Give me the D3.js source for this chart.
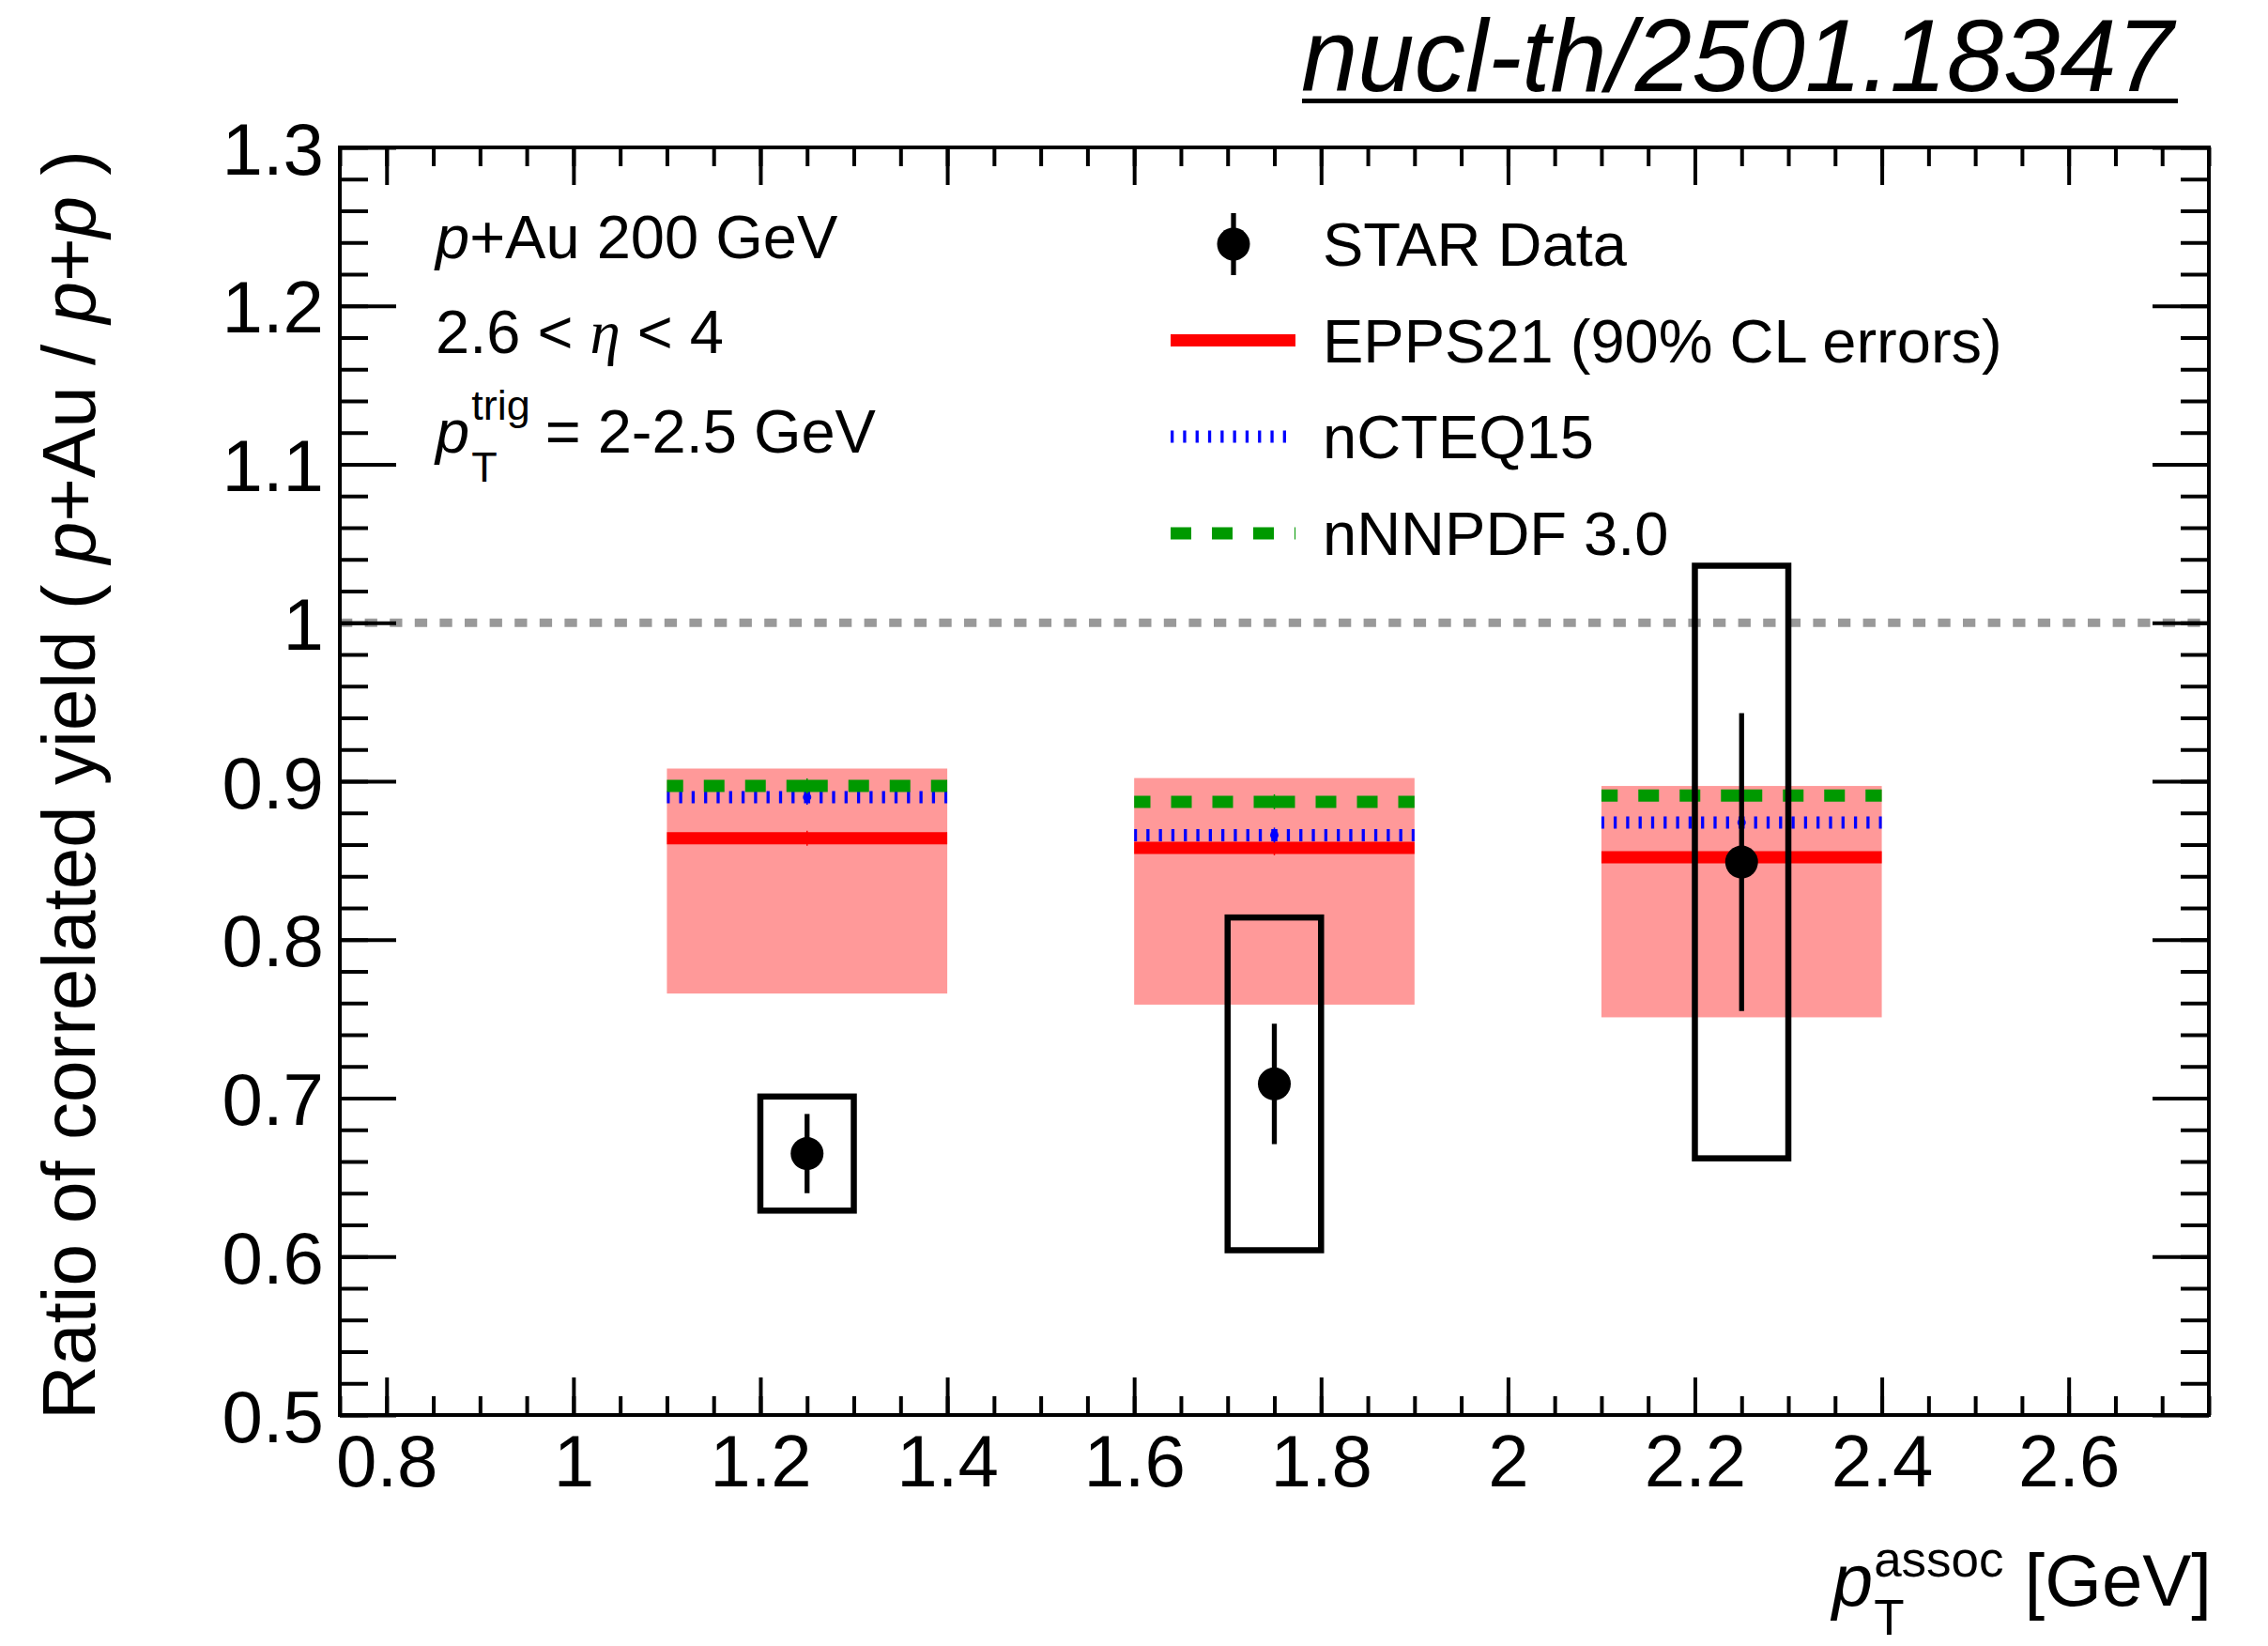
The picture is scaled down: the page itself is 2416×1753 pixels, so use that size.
<!DOCTYPE html>
<html>
<head>
<meta charset="utf-8">
<script src="https://cdn.jsdelivr.net/npm/d3@7"></script>
<style>
  body { margin: 0; background: #fff; }
  svg { display: block; font-family: "Liberation Sans", Arial, Helvetica, sans-serif; }
</style>
</head>
<body>
<svg id="chart" width="2416" height="1753"></svg>
<script>
// values
const ptAssoc = [1.25, 1.75, 2.25];
const starRatio = [0.665, 0.709, 0.849];
const starStat = [0.025, 0.038, 0.094];
const starSys = [0.036, 0.105, 0.187];
const sysHalfWidth = 0.05;

const eppsCentral = [0.864, 0.858, 0.852];
const eppsLow = [0.766, 0.759, 0.751];
const eppsHigh = [0.908, 0.902, 0.897];
const ncteq = [0.890, 0.866, 0.874];
const nnpdf = [0.897, 0.887, 0.891];
const modelHalfWidth = 0.15;

const xMajor = [0.8, 1.0, 1.2, 1.4, 1.6, 1.8, 2.0, 2.2, 2.4, 2.6];
const xTickLabels = ["0.8", "1", "1.2", "1.4", "1.6", "1.8", "2", "2.2", "2.4", "2.6"];
const yMajor = [0.5, 0.6, 0.7, 0.8, 0.9, 1.0, 1.1, 1.2, 1.3];
const yTickLabels = ["0.5", "0.6", "0.7", "0.8", "0.9", "1", "1.1", "1.2", "1.3"];

const legendLabels = ["STAR Data", "EPPS21 (90% CL errors)", "nCTEQ15", "nNNPDF 3.0"];

const svg = d3.select("#chart");
svg.append("rect").attr("width", 2416).attr("height", 1753).attr("fill", "#fff");

const x = d3.scaleLinear().domain([0.75, 2.75]).range([362, 2353]);
const y = d3.scaleLinear().domain([0.5, 1.3]).range([1507, 157]);

const xMinor = d3.range(0, 41).map(i => +(0.75 + i * 0.05).toFixed(2));
const yMinor = d3.range(0, 41).map(i => +(0.5 + i * 0.02).toFixed(2));

const RED = "#ff0000", BLUE = "#0000ff", GREEN = "#009900";

// EPPS21 error bands
svg.selectAll("rect.band")
  .data(ptAssoc)
  .enter()
  .append("rect")
  .attr("class", "band")
  .attr("x", d => x(d - modelHalfWidth))
  .attr("width", d => x(d + modelHalfWidth) - x(d - modelHalfWidth))
  .attr("y", (d, i) => y(eppsHigh[i]))
  .attr("height", (d, i) => y(eppsLow[i]) - y(eppsHigh[i]))
  .attr("fill", "#ff9999");

// model lines, drawn from the centre outward so the dash pattern starts there
function modelLine(values, color, dash) {
  const g = svg.append("g");
  ptAssoc.forEach((c, i) => {
    [-1, 1].forEach(s => {
      g.append("line")
        .attr("x1", x(c)).attr("x2", x(c + s * modelHalfWidth))
        .attr("y1", y(values[i])).attr("y2", y(values[i]))
        .attr("stroke", color)
        .attr("stroke-width", 13)
        .attr("stroke-dasharray", dash);
    });
    g.append("line")
      .attr("x1", x(c)).attr("x2", x(c))
      .attr("y1", y(values[i]) - 8).attr("y2", y(values[i]) + 8)
      .attr("stroke", color).attr("stroke-width", 1.5);
  });
  return g;
}
modelLine(eppsCentral, RED, null);
const blueG = modelLine(ncteq, BLUE, "3.3 10");
blueG.selectAll("circle.mk")
  .data(ptAssoc)
  .enter()
  .append("circle")
  .attr("class", "mk")
  .attr("cx", d => x(d))
  .attr("cy", (d, i) => y(ncteq[i]))
  .attr("r", 4.5)
  .attr("fill", BLUE);
modelLine(nnpdf, GREEN, "22 22");

// unity reference line
svg.append("line")
  .attr("x1", x(0.75)).attr("x2", x(2.75))
  .attr("y1", y(1)).attr("y2", y(1))
  .attr("stroke", "#999999")
  .attr("stroke-width", 9)
  .attr("stroke-dasharray", "13.3 13.3");

// systematic boxes
svg.selectAll("rect.sys")
  .data(ptAssoc)
  .enter()
  .append("rect")
  .attr("class", "sys")
  .attr("x", d => x(d - sysHalfWidth))
  .attr("width", d => x(d + sysHalfWidth) - x(d - sysHalfWidth))
  .attr("y", (d, i) => y(starRatio[i] + starSys[i]))
  .attr("height", (d, i) => y(starRatio[i] - starSys[i]) - y(starRatio[i] + starSys[i]))
  .attr("fill", "none")
  .attr("stroke", "#000")
  .attr("stroke-width", 6.5);

// statistical errors and points
svg.selectAll("line.stat")
  .data(ptAssoc)
  .enter()
  .append("line")
  .attr("class", "stat")
  .attr("x1", d => x(d)).attr("x2", d => x(d))
  .attr("y1", (d, i) => y(starRatio[i] + starStat[i]))
  .attr("y2", (d, i) => y(starRatio[i] - starStat[i]))
  .attr("stroke", "#000")
  .attr("stroke-width", 5.3);

svg.selectAll("circle.pt")
  .data(ptAssoc)
  .enter()
  .append("circle")
  .attr("class", "pt")
  .attr("cx", d => x(d))
  .attr("cy", (d, i) => y(starRatio[i]))
  .attr("r", 17.5)
  .attr("fill", "#000");

// axes (ROOT style ticks inside the frame)
const fmtX = d => xTickLabels[xMajor.indexOf(d)];
const fmtY = d => yTickLabels[yMajor.indexOf(d)];

function styleAxis(g) {
  g.select(".domain").remove();
  g.selectAll(".tick line").attr("stroke", "#000").attr("stroke-width", 4);
  g.selectAll(".tick text").attr("fill", "#000").attr("font-size", 78)
    .attr("font-family", "'Liberation Sans', Arial, Helvetica, sans-serif");
}

svg.append("g").attr("transform", "translate(0,1507)")
  .call(d3.axisBottom(x).tickValues(xMinor).tickSize(-20).tickFormat(""))
  .call(styleAxis);
svg.append("g").attr("transform", "translate(0,1507)")
  .call(d3.axisBottom(x).tickValues(xMajor).tickSize(-40).tickPadding(21).tickFormat(fmtX))
  .call(styleAxis);
svg.append("g").attr("transform", "translate(0,157)")
  .call(d3.axisTop(x).tickValues(xMinor).tickSize(-20).tickFormat(""))
  .call(styleAxis);
svg.append("g").attr("transform", "translate(0,157)")
  .call(d3.axisTop(x).tickValues(xMajor).tickSize(-40).tickFormat(""))
  .call(styleAxis);

svg.append("g").attr("transform", "translate(362,0)")
  .call(d3.axisLeft(y).tickValues(yMinor).tickSize(-30).tickFormat(""))
  .call(styleAxis);
const yAxisG = svg.append("g").attr("transform", "translate(362,0)")
  .call(d3.axisLeft(y).tickValues(yMajor).tickSize(-60).tickPadding(17).tickFormat(fmtY))
  .call(styleAxis);
yAxisG.selectAll(".tick text").attr("dy", "0.36em");
svg.append("g").attr("transform", "translate(2353,0)")
  .call(d3.axisRight(y).tickValues(yMinor).tickSize(-30).tickFormat(""))
  .call(styleAxis);
svg.append("g").attr("transform", "translate(2353,0)")
  .call(d3.axisRight(y).tickValues(yMajor).tickSize(-60).tickFormat(""))
  .call(styleAxis);

svg.append("rect")
  .attr("x", x(0.75)).attr("y", y(1.3))
  .attr("width", x(2.75) - x(0.75)).attr("height", y(0.5) - y(1.3))
  .attr("fill", "none").attr("stroke", "#000").attr("stroke-width", 4);

// y title
const yt = svg.append("text")
  .attr("transform", "translate(101,160) rotate(-90)")
  .attr("text-anchor", "end")
  .attr("font-size", 80);
yt.append("tspan").text("Ratio of correlated yield ( ");
yt.append("tspan").attr("font-style", "italic").text("p");
yt.append("tspan").text("+Au / ");
yt.append("tspan").attr("font-style", "italic").text("p");
yt.append("tspan").text("+");
yt.append("tspan").attr("font-style", "italic").text("p");
yt.append("tspan").text(" )");

// x title
const xt = svg.append("g");
const gev = xt.append("text").attr("x", 2356).attr("y", 1710)
  .attr("text-anchor", "end").attr("font-size", 78).text("[GeV]");
const gevStart = 2356 - gev.node().getComputedTextLength();
const supA = xt.append("text").attr("y", 1679).attr("font-size", 53).text("assoc");
const supX = gevStart - 22 - supA.node().getComputedTextLength();
supA.attr("x", supX);
xt.append("text").attr("x", supX).attr("y", 1741).attr("font-size", 53).text("T");
xt.append("text").attr("x", supX - 1).attr("y", 1710).attr("text-anchor", "end")
  .attr("font-size", 78).attr("font-style", "italic").text("p");

// arXiv label
const arx = svg.append("text").attr("x", 1386).attr("y", 97)
  .attr("font-size", 108.5).attr("font-style", "italic").text("nucl-th/2501.18347");
const arxW = arx.node().getComputedTextLength();
svg.append("line")
  .attr("x1", 1387).attr("x2", 1387 + arxW + 4)
  .attr("y1", 107.5).attr("y2", 107.5)
  .attr("stroke", "#000").attr("stroke-width", 5);

// top-left captions
const cap = svg.append("g").attr("font-size", 65);
const c1 = cap.append("text").attr("x", 464).attr("y", 275);
c1.append("tspan").attr("font-style", "italic").text("p");
c1.append("tspan").text("+Au 200 GeV");

const c2 = cap.append("text").attr("x", 464).attr("y", 376);
c2.append("tspan").text("2.6 < ");
c2.append("tspan").attr("font-family", "'Liberation Serif', 'Times New Roman', serif")
  .attr("font-style", "italic").text("\u03B7");
c2.append("tspan").text(" < 4");

const pT = cap.append("text").attr("x", 464).attr("y", 482)
  .attr("font-style", "italic").text("p");
const pW = pT.node().getComputedTextLength();
const trig = cap.append("text").attr("x", 464 + pW + 2).attr("y", 447)
  .attr("font-size", 45).text("trig");
cap.append("text").attr("x", 464 + pW + 2).attr("y", 513).attr("font-size", 45).text("T");
cap.append("text").attr("x", 464 + pW + 2 + trig.node().getComputedTextLength() + 16)
  .attr("y", 482).text("= 2-2.5 GeV");

// legend
const legRows = [260, 362.5, 465, 568];
const leg = svg.append("g");
leg.selectAll("text")
  .data(legendLabels)
  .enter()
  .append("text")
  .attr("x", 1409)
  .attr("y", (d, i) => legRows[i] + 23)
  .attr("font-size", 65)
  .text(d => d);

leg.append("line").attr("x1", 1314).attr("x2", 1314)
  .attr("y1", legRows[0] - 33).attr("y2", legRows[0] + 33)
  .attr("stroke", "#000").attr("stroke-width", 5.3);
leg.append("circle").attr("cx", 1314).attr("cy", legRows[0]).attr("r", 17.5).attr("fill", "#000");

const legLines = [[RED, null], [BLUE, "3.3 10"], [GREEN, "22 22"]];
legLines.forEach((d, i) => {
  leg.append("line")
    .attr("x1", 1247).attr("x2", 1380)
    .attr("y1", legRows[i + 1]).attr("y2", legRows[i + 1])
    .attr("stroke", d[0]).attr("stroke-width", 13)
    .attr("stroke-dasharray", d[1]);
});
</script>
</body>
</html>
